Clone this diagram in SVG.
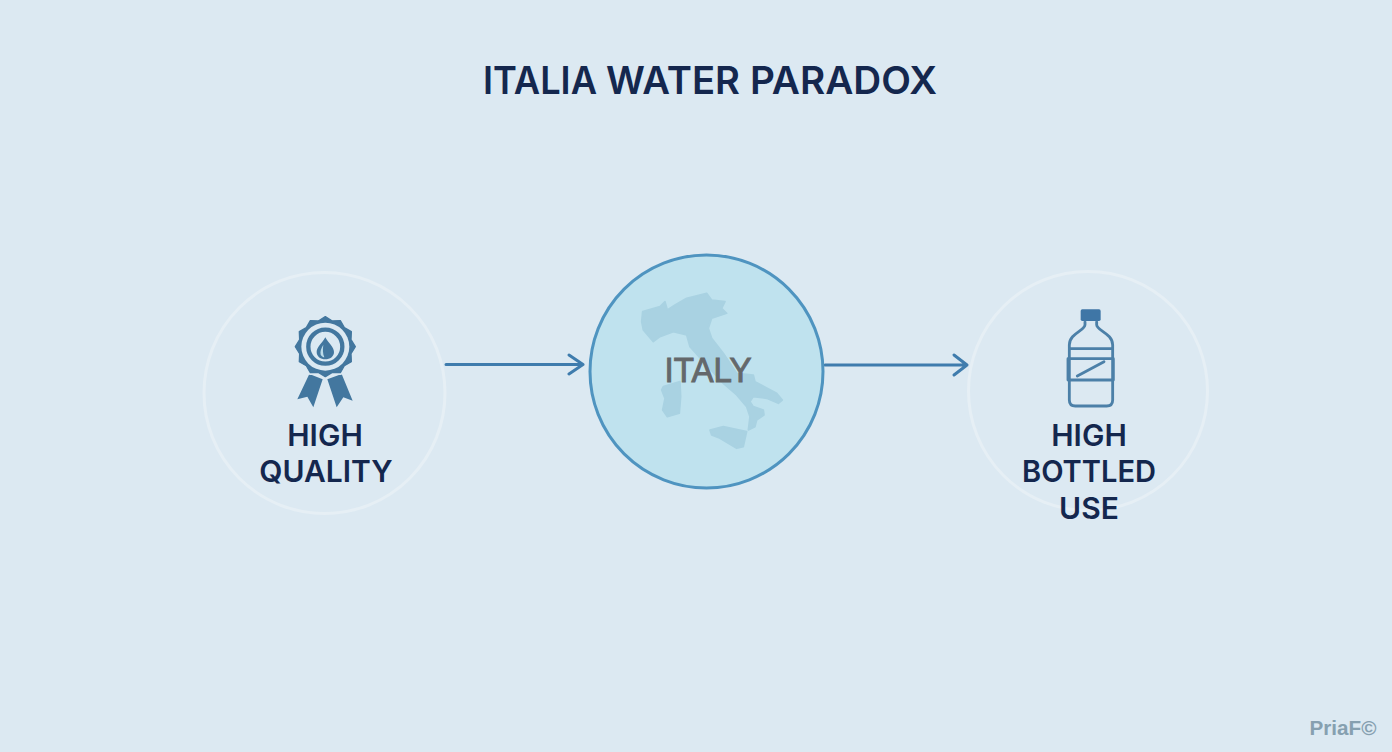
<svg xmlns="http://www.w3.org/2000/svg" width="1392" height="752" viewBox="0 0 1392 752">
<style>
.t{font-family:Inter,"Liberation Sans",sans-serif;font-weight:600;fill:#14274e;text-anchor:middle}
.ti{font-family:Inter,"Liberation Sans",sans-serif;font-weight:600;font-size:38px;fill:#14274e}
.lb{font-size:30px}
.ring{fill:none;stroke:#e6eff5;stroke-width:3}
.ic{fill:#43779f}
.bs{fill:none;stroke:#4c80a8;stroke-width:8.500;stroke-linecap:round;stroke-linejoin:round}
.cn{fill:none;stroke:#3f7cad;stroke-width:3;stroke-linecap:round;stroke-linejoin:round}
.map{fill:#a9d2e2;stroke:#a9d2e2;stroke-width:5;stroke-linejoin:round}
</style>
<rect width="1392" height="752" fill="#dce9f2"/>
<text class="ti" y="94"><tspan x="483" textLength="114" lengthAdjust="spacingAndGlyphs">ITALIA</tspan> <tspan x="606" textLength="134" lengthAdjust="spacingAndGlyphs">WATER</tspan> <tspan x="750" textLength="187" lengthAdjust="spacingAndGlyphs">PARADOX</tspan></text>
<g id="connectors">
<path class="cn" d="M446 364.500H583M569 355L583 364.500L569 374"/>
<path class="cn" d="M825 365H967M954 355L967 365L954 375"/>
</g>
<g id="node-quality">
<circle class="ring" cx="324.500" cy="393" r="120.500"/>
<g transform="translate(260 300) scale(.3333)">
<polygon class="ic" points="148,222 188,238 160,322 142,290 112,298"/>
<polygon class="ic" points="202,238 245,222 278,302 250,292 230,322"/>
<polygon class="ic" stroke="#dce9f2" stroke-width="14" stroke-linejoin="round" paint-order="stroke" points="196,50 217,63 241,62 253,83 274,95 273,119 286,140 273,161 274,185 253,197 241,218 217,217 196,230 175,217 151,218 139,197 118,185 119,161 106,140 119,119 118,95 139,83 151,62 175,63"/>
<polygon class="ic" stroke="#43779f" stroke-width="4" stroke-linejoin="round" points="196,50 217,63 241,62 253,83 274,95 273,119 286,140 273,161 274,185 253,197 241,218 217,217 196,230 175,217 151,218 139,197 118,185 119,161 106,140 119,119 118,95 139,83 151,62 175,63"/>
<circle cx="196" cy="140" r="72" fill="#dce9f2"/>
<circle cx="196" cy="140" r="51" fill="none" stroke="#43779f" stroke-width="13"/>
<path class="ic" d="M196 112C186 130 170 142 170 156C170 170 182 178 196 178C210 178 222 170 222 156C222 142 206 130 196 112Z"/>
<path d="M190 134C183 146 180 154 182 164C186 170 190 172 193 172C188 160 188 148 190 134Z" fill="#bcdcea"/>
</g>
<text class="t lb" x="325" y="446">HIGH</text>
<text class="t lb" x="326" y="482">QUALITY</text>
</g>
<g id="node-italy">
<circle cx="706.500" cy="371.500" r="116.500" fill="#bfe2ee" stroke="#4f94c0" stroke-width="3"/>
<g transform="translate(580 250) scale(.3333)" class="map">
<path d="M188 185L240 170L255 155L262 180L285 165L320 145L380 130L395 150L435 155L425 175L440 190L395 205L385 235L395 265L430 310L470 370L520 375L525 395L590 430L607 450L595 460L560 445L520 440L510 455L520 470L550 480L552 495L530 510L525 530L505 540L510 500L500 470L470 435L430 400L375 340L330 290L320 255L280 245L240 260L220 275L190 240L185 215Z"/>
<path d="M250 410L300 395L302 440L298 490L262 500L248 480L255 445L245 420Z"/>
<path d="M390 540L430 530L500 545L490 590L470 595L420 565L395 555Z"/>
</g>
<text x="708" y="382" font-family="'Liberation Sans',Arial,sans-serif" font-size="35" fill="#64686b" stroke="#64686b" stroke-width="1" text-anchor="middle" textLength="87" lengthAdjust="spacingAndGlyphs">ITALY</text>
</g>
<g id="node-bottled">
<circle class="ring" cx="1088" cy="391" r="119.500"/>
<g transform="translate(1040 300) scale(.3333)">
<rect x="122" y="28" width="60" height="35" rx="5" fill="#3f76a6"/>
<path class="bs" d="M135 66V74C135 92 88 100 88 135V300Q88 318 106 318H200Q218 318 218 300V135C218 100 170 92 170 74V66"/>
<path class="bs" d="M88 146H218M84 176H220V240H84ZM112 228L192 185"/>
</g>
<text class="t lb" x="1089" y="446">HIGH</text>
<text class="t lb" x="1089" y="482" textLength="134" lengthAdjust="spacingAndGlyphs">BOTTLED</text>
<text class="t lb" x="1089" y="519">USE</text>
</g>
<text x="1343" y="735" font-family="'Liberation Sans',Arial,sans-serif" font-size="20" font-weight="700" fill="#86a0b0" text-anchor="middle" textLength="67" lengthAdjust="spacingAndGlyphs">PriaF©</text>
</svg>
